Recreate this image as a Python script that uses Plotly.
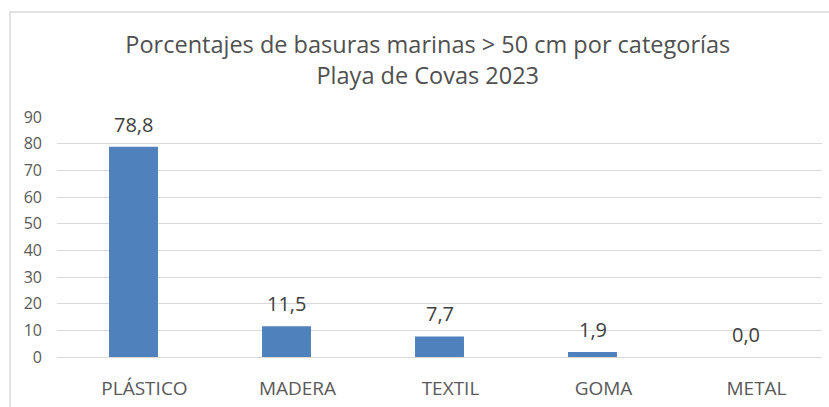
import plotly.graph_objects as go

categories = ["PLÁSTICO", "MADERA", "TEXTIL", "GOMA", "METAL"]
values = [78.8, 11.5, 7.7, 1.9, 0.0]
y_ticks = [0, 10, 20, 30, 40, 50, 60, 70, 80, 90]
title_lines = ["Porcentajes de basuras marinas > 50 cm por categorías", "Playa de Covas 2023"]

W, H = 829, 407
L, R, T, B = 57, 7, 117, 50
pw, ph = W - L - R, H - T - B

font = "Open Sans, Noto Sans, sans-serif"

fig = go.Figure(go.Bar(
    x=categories, y=values,
    marker=dict(color="#4F81BD", line=dict(width=0)),
    hoverinfo="skip",
))

for c, v in zip(categories, values):
    fig.add_annotation(x=c, y=v, xref="x", yref="y", text=f"{v:.1f}".replace(".", ","),
                       showarrow=False, yanchor="bottom", yshift=7,
                       font=dict(size=20, color="#404040", family=font))

fig.update_layout(
    width=W, height=H,
    margin=dict(l=L, r=R, t=T, b=B, autoexpand=False),
    paper_bgcolor="white", plot_bgcolor="white",
    bargap=0.68,
    showlegend=False,
    font=dict(family=font, color="#595959"),
    title=dict(text="<br>".join(title_lines), x=0.516, xanchor="center",
               y=1 - 53 / H, yanchor="middle",
               font=dict(size=23.5, color="#505050", family=font)),
    xaxis=dict(showgrid=False, showline=False, ticks="", automargin=False,
               tickfont=dict(size=19, color="#595959"), ticklabelstandoff=18,
               ticklabelshift=11),
    yaxis=dict(range=[0, 90], tickvals=y_ticks, showgrid=True, gridcolor="#D9D9D9", gridwidth=1,
               zeroline=True, zerolinecolor="#D9D9D9", zerolinewidth=1, showline=False,
               automargin=False, ticks="", tickfont=dict(size=16, color="#595959"),
               ticklabelstandoff=14),
    shapes=[dict(type="rect", xref="paper", yref="paper",
                 x0=(10 - L) / pw, x1=2, y0=-1, y1=(H - B - 12) / ph,
                 line=dict(color="#D9D9D9", width=1.5), fillcolor="rgba(0,0,0,0)", layer="below")],
)

fig.write_html("out.html", config={"displayModeBar": False},
               post_script="document.body.style.margin='0';")
